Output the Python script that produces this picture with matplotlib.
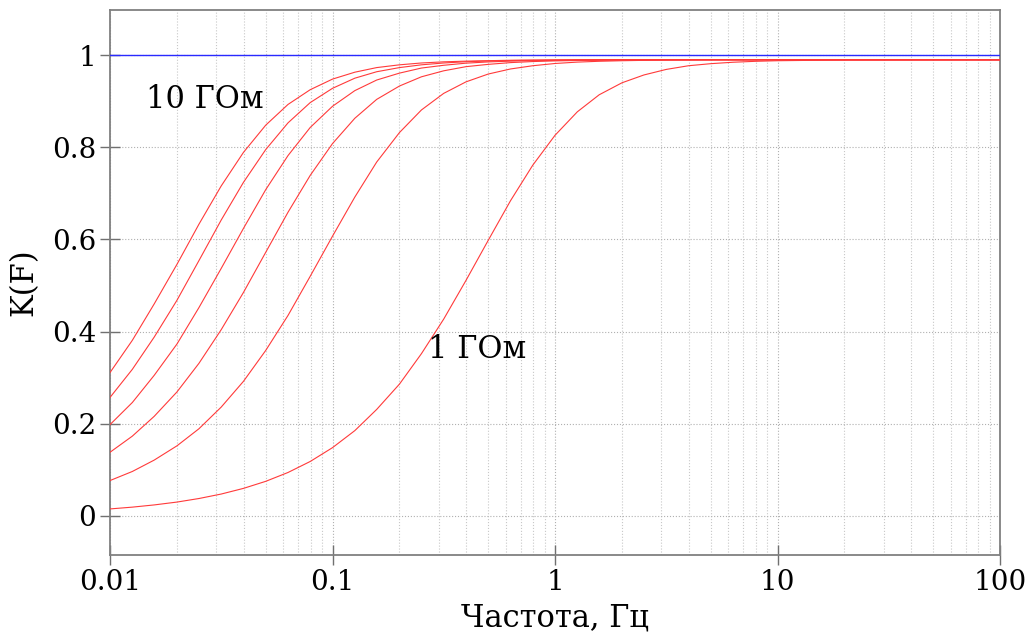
import matplotlib
matplotlib.use("Agg")
import matplotlib.pyplot as plt
from matplotlib.ticker import LogLocator, FixedLocator, NullFormatter

# frequencies, Hz (10 points per decade up to 10 Hz)
freq = [0.01, 0.0126, 0.0158, 0.02, 0.0251, 0.0316, 0.0398, 0.0501, 0.0631, 0.0794,
        0.1, 0.126, 0.158, 0.2, 0.251, 0.316, 0.398, 0.501, 0.631, 0.794,
        1, 1.26, 1.58, 2, 2.51, 3.16, 3.98, 5.01, 6.31, 7.94,
        10, 20, 50, 100]

# K(F) curves, 10 GOhm (top) ... 1 GOhm (bottom)
k_a = [0.311, 0.381, 0.460, 0.546, 0.633, 0.716, 0.789, 0.848, 0.893, 0.925,
       0.948, 0.963, 0.973, 0.979, 0.983, 0.9855, 0.987, 0.988, 0.9889, 0.9893,
       0.9896, 0.990, 0.990, 0.990, 0.990, 0.990, 0.990, 0.990, 0.990, 0.990,
       0.990, 0.990, 0.990, 0.990]
k_b = [0.257, 0.318, 0.388, 0.468, 0.554, 0.642, 0.724, 0.795, 0.853, 0.897,
       0.928, 0.950, 0.964, 0.973, 0.979, 0.983, 0.9857, 0.9873, 0.9883, 0.9889,
       0.9893, 0.9896, 0.990, 0.990, 0.990, 0.990, 0.990, 0.990, 0.990, 0.990,
       0.990, 0.990, 0.990, 0.990]
k_c = [0.198, 0.246, 0.305, 0.373, 0.452, 0.537, 0.624, 0.708, 0.782, 0.843,
       0.889, 0.923, 0.946, 0.961, 0.972, 0.978, 0.9826, 0.9853, 0.9870, 0.9881,
       0.9888, 0.9892, 0.9895, 0.990, 0.990, 0.990, 0.990, 0.990, 0.990, 0.990,
       0.990, 0.990, 0.990, 0.990]
k_d = [0.138, 0.173, 0.216, 0.269, 0.331, 0.404, 0.485, 0.572, 0.659, 0.739,
       0.808, 0.863, 0.904, 0.933, 0.953, 0.966, 0.975, 0.980, 0.9838, 0.9861,
       0.9875, 0.9884, 0.9890, 0.9894, 0.9896, 0.990, 0.990, 0.990, 0.990, 0.990,
       0.990, 0.990, 0.990, 0.990]
k_e = [0.0766, 0.0963, 0.121, 0.152, 0.189, 0.236, 0.292, 0.359, 0.435, 0.520,
       0.607, 0.692, 0.768, 0.832, 0.881, 0.917, 0.942, 0.959, 0.970, 0.977,
       0.9819, 0.9849, 0.9867, 0.9879, 0.9887, 0.9892, 0.9895, 0.990, 0.990, 0.990,
       0.990, 0.990, 0.990, 0.990]
k_f = [0.0150, 0.0189, 0.0237, 0.0299, 0.0376, 0.0473, 0.0596, 0.0749, 0.0941, 0.118,
       0.148, 0.185, 0.231, 0.286, 0.352, 0.427, 0.511, 0.598, 0.684, 0.761,
       0.826, 0.877, 0.914, 0.940, 0.957, 0.969, 0.977, 0.9815, 0.9846, 0.9866,
       0.9879, 0.9895, 0.9899, 0.990]
curves = [k_a, k_b, k_c, k_d, k_e, k_f]

ideal = [1.0, 1.0]
ideal_freq = [0.01, 100]

y_ticks = [0, 0.2, 0.4, 0.6, 0.8, 1]
y_labels = ["0", "0.2", "0.4", "0.6", "0.8", "1"]
x_ticks = [0.01, 0.1, 1, 10, 100]
x_labels = ["0.01", "0.1", "1", "10", "100"]

plt.rcParams['font.family'] = ['DejaVu Serif']

fig = plt.figure(figsize=(10.32, 6.32), dpi=100)
ax = fig.add_axes([110 / 1032, 1 - 555 / 632, 890 / 1032, 545 / 632])

ax.plot(ideal_freq, ideal, color='#2a2aff', lw=1.0, zorder=4)
for k in curves:
    ax.plot(freq, k, color='#ff3a3a', lw=0.8, zorder=3)

ax.set_xscale('log')
ax.set_xlim(0.01, 100)
ax.set_ylim(-0.085, 1.098)

ax.xaxis.set_major_locator(FixedLocator(x_ticks))
ax.set_xticklabels(x_labels)
ax.xaxis.set_minor_locator(LogLocator(base=10, subs=range(2, 10)))
ax.xaxis.set_minor_formatter(NullFormatter())
ax.set_yticks(y_ticks)
ax.set_yticklabels(y_labels)

ax.grid(True, which='major', color='#b0b0b0', ls=':', lw=0.8)
ax.grid(True, which='minor', axis='x', color='#c8c8c8', ls=':', lw=0.8)
ax.set_axisbelow(True)

ax.tick_params(which='major', direction='inout', length=14, width=1.0, color='#707070',
               labelsize=20, pad=3)
ax.tick_params(which='minor', length=0)
for s in ax.spines.values():
    s.set_color('#808080')
    s.set_linewidth(1.3)

ax.set_ylabel('K(F)', fontsize=22)
ax.yaxis.set_label_coords(-0.079, 0.5)
ax.set_xlabel('Частота, Гц', fontsize=22)
ax.xaxis.set_label_coords(0.5, -0.087)

ax.text(0.0145, 0.903, '10 ГОм', fontsize=22, va='center', ha='left')
ax.text(0.27, 0.36, '1 ГОм', fontsize=22, va='center', ha='left')

fig.savefig('out.png', dpi=100)
